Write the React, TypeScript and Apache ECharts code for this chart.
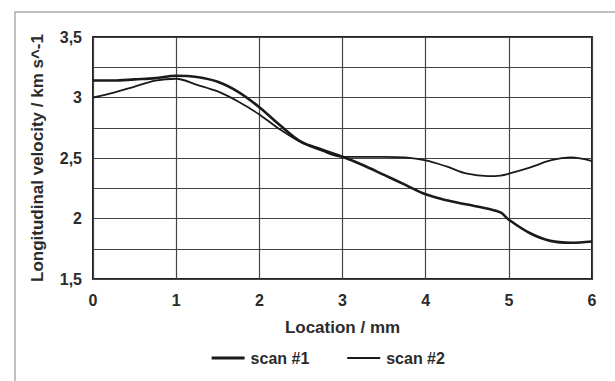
import React, { useEffect, useRef } from "react";
import * as echarts from "echarts";

const locations = [0, 0.25, 0.5, 0.75, 1.0, 1.25, 1.5, 1.75, 2.0, 2.25, 2.5, 2.75, 3.0, 3.25, 3.5, 3.75, 4.0, 4.25, 4.5, 4.75, 4.9, 5.0, 5.25, 5.5, 5.75, 6.0];
const scan1 = [3.14, 3.14, 3.15, 3.16, 3.18, 3.17, 3.13, 3.045, 2.92, 2.77, 2.635, 2.57, 2.51, 2.44, 2.36, 2.28, 2.2, 2.15, 2.115, 2.08, 2.05, 1.99, 1.88, 1.815, 1.8, 1.81];
const scan2 = [3.0, 3.04, 3.09, 3.14, 3.155, 3.105, 3.05, 2.965, 2.86, 2.735, 2.63, 2.56, 2.51, 2.51, 2.51, 2.505, 2.48, 2.43, 2.37, 2.35, 2.355, 2.37, 2.42, 2.48, 2.505, 2.475];
const seriesNames = ["scan #1", "scan #2"];
const xTicks = [0, 1, 2, 3, 4, 5, 6];
const yLabelValues = [1.5, 2, 2.5, 3, 3.5];

const FONT = "'Liberation Sans', Arial, sans-serif";
const TEXT_COLOR = "#2b2b2b";

export default function App() {
  const ref = useRef<HTMLDivElement>(null);
  useEffect(() => {
    document.body.style.margin = "0";
    const chart = echarts.init(ref.current!, null, { renderer: "svg" });
    const pairs = (ys: number[]) => locations.map((x, i) => [x, ys[i]]);
    const txt = (size: number) => ({ fontFamily: FONT, fontWeight: "bold", fontSize: size, color: TEXT_COLOR });
    chart.setOption({
      animation: false,
      backgroundColor: "#ffffff",
      textStyle: { fontFamily: FONT },
      graphic: [
        {
          type: "rect",
          shape: { x: 15, y: 12, width: 640, height: 400 },
          style: { fill: "none", stroke: "#aaaaaa", lineWidth: 1.5 },
          z: -10,
        },
      ],
      grid: {
        left: 93,
        right: 23,
        top: 37,
        bottom: 102,
        show: true,
        borderColor: "#222222",
        borderWidth: 2,
        backgroundColor: "transparent",
      },
      legend: {
        top: 345,
        left: 205,
        itemWidth: 33,
        itemHeight: 10,
        itemGap: 37,
        itemStyle: { opacity: 0 },
        textStyle: { ...txt(16), padding: [0, 0, 0, 1] },
        data: [
          { name: seriesNames[0], lineStyle: { width: 3.2, color: "#1a1a1a" } },
          { name: seriesNames[1], lineStyle: { width: 1.8, color: "#1a1a1a" } },
        ],
      },
      xAxis: {
        type: "value",
        min: 0,
        max: 6,
        interval: 1,
        name: "Location / mm",
        nameLocation: "middle",
        nameGap: 40,
        nameTextStyle: txt(17),
        axisLine: { show: false },
        axisTick: { show: false },
        axisLabel: {
          margin: 13,
          ...txt(16),
          formatter: (v: number) => (xTicks.includes(v) ? String(v) : ""),
        },
        splitLine: { show: true, lineStyle: { color: "#444", width: 1.2 } },
      },
      yAxis: {
        type: "value",
        min: 1.5,
        max: 3.5,
        interval: 0.25,
        name: "Longitudinal velocity / km s^-1",
        nameLocation: "middle",
        nameGap: 47,
        nameRotate: 90,
        nameTextStyle: txt(17),
        axisLine: { show: false },
        axisTick: { show: false },
        axisLabel: {
          margin: 11,
          ...txt(16),
          formatter: (v: number) =>
            yLabelValues.some((l) => Math.abs(l - v) < 1e-6) ? String(v).replace(".", ",") : "",
        },
        splitLine: { show: true, lineStyle: { color: "#444", width: 1.2 } },
      },
      series: [
        {
          name: seriesNames[0],
          type: "line",
          data: pairs(scan1),
          smooth: 0.35,
          symbol: "none",
          lineStyle: { color: "#1a1a1a", width: 2.6 },
          itemStyle: { color: "#1a1a1a" },
        },
        {
          name: seriesNames[1],
          type: "line",
          data: pairs(scan2),
          smooth: 0.35,
          symbol: "none",
          lineStyle: { color: "#1a1a1a", width: 1.8 },
          itemStyle: { color: "#1a1a1a" },
        },
      ],
    });
    return () => chart.dispose();
  }, []);
  return <div ref={ref} style={{ width: 615, height: 381, position: "absolute", left: 0, top: 0 }} />;
}
